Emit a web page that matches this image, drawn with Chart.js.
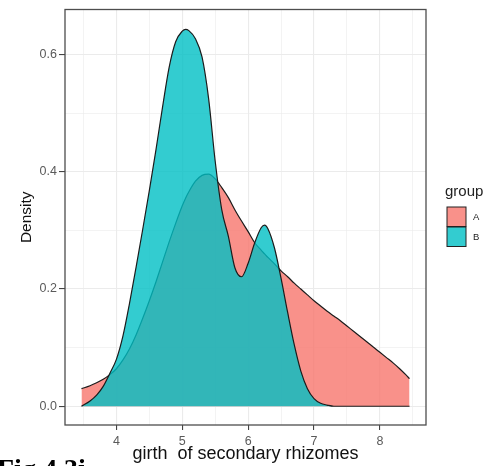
<!DOCTYPE html>
<html>
<head>
<meta charset="utf-8">
<script src="https://cdn.jsdelivr.net/npm/chart.js@4.4.1/dist/chart.umd.min.js"></script>
<style>
  html, body { margin: 0; padding: 0; background: #fff; overflow: hidden; }
  #wrap { position: relative; width: 485px; height: 466px; }
  #fig { position: absolute; left: -3px; top: 455px; font: bold 28px "Liberation Serif", serif; line-height: 28px; color: #000; white-space: nowrap; }
</style>
</head>
<body>
<div id="wrap">
  <canvas id="chart"></canvas>
  <div id="fig">Fig 4.3i</div>
</div>
<script>
// girth of secondary rhizomes (x) and density
const girth = [3.47, 3.6, 3.7, 3.8, 3.9, 4.0, 4.1, 4.2, 4.3, 4.4, 4.5, 4.6, 4.7, 4.8, 4.9,
  5.0, 5.05, 5.1, 5.2, 5.3, 5.4, 5.5, 5.6, 5.7, 5.8, 5.9, 6.0, 6.1, 6.2, 6.25, 6.3, 6.4, 6.5,
  6.6, 6.7, 6.8, 6.9, 7.0, 7.1, 7.2, 7.3, 7.4, 7.5, 7.6, 7.7, 7.8, 7.9, 8.0, 8.1, 8.2, 8.3,
  8.4, 8.45];

const densityA = [0.030, 0.035, 0.040, 0.046, 0.054, 0.064, 0.079, 0.098, 0.122, 0.150, 0.180,
  0.212, 0.246, 0.280, 0.312, 0.342, 0.355, 0.366, 0.384, 0.394, 0.396, 0.388, 0.373, 0.356,
  0.335, 0.316, 0.298, 0.279, 0.266, 0.260, 0.254, 0.243, 0.231, 0.221, 0.210, 0.200, 0.190,
  0.180, 0.171, 0.162, 0.154, 0.146, 0.137, 0.128, 0.119, 0.110, 0.101, 0.092, 0.083, 0.074,
  0.064, 0.053, 0.047];

const densityB = [0.000, 0.009, 0.019, 0.034, 0.056, 0.080, 0.120, 0.176, 0.238, 0.302, 0.368,
  0.437, 0.510, 0.578, 0.622, 0.640, 0.643, 0.641, 0.627, 0.596, 0.525, 0.418, 0.335, 0.290,
  0.236, 0.221, 0.244, 0.279, 0.305, 0.309, 0.303, 0.270, 0.218, 0.160, 0.105, 0.060, 0.030,
  0.013, 0.005, 0.002, 0.000, 0.000, 0.000, 0.000, 0.000, 0.000, 0.000, 0.000, 0.000, 0.000,
  0.000, 0.000, 0.000];

const groups = ['A', 'B'];
const xMajor = [4, 5, 6, 7, 8];
const xMinor = [3.5, 4.5, 5.5, 6.5, 7.5, 8.5];
const yMajor = [0, 0.2, 0.4, 0.6];
const yMinor = [0.1, 0.3, 0.5];

const fillA = 'rgba(248,118,109,0.8)';
const fillB = 'rgba(0,191,196,0.8)';
const gridCol = '#ebebeb';
const tickCol = '#5a5a5a';

const isIn = (list, v) => list.some(m => Math.abs(m - v) < 1e-9);
const toPts = ys => girth.map((x, i) => ({ x: x, y: ys[i] }));

// panel border like theme_bw
const framePlugin = {
  id: 'frame',
  afterDatasetsDraw(chart) {
    const { ctx, chartArea: a } = chart;
    ctx.save();
    ctx.strokeStyle = '#4d4d4d';
    ctx.lineWidth = 1.3;
    ctx.strokeRect(a.left, a.top, a.right - a.left, a.bottom - a.top);
    ctx.restore();
  }
};

// ggplot style legend on the right
const legendPlugin = {
  id: 'groupLegend',
  afterDraw(chart) {
    const ctx = chart.ctx;
    ctx.save();
    ctx.fillStyle = '#222';
    ctx.font = '15px "Liberation Sans", Arial, sans-serif';
    ctx.textBaseline = 'alphabetic';
    ctx.fillText('group', 445, 196);
    const fills = [fillA, fillB];
    groups.forEach((g, i) => {
      const y = 207 + i * 20;
      ctx.fillStyle = fills[i];
      ctx.fillRect(447, y, 19, 19.5);
      ctx.strokeStyle = '#222';
      ctx.lineWidth = 1;
      ctx.strokeRect(447, y, 19, 19.5);
      ctx.fillStyle = '#222';
      ctx.font = '9.5px "Liberation Sans", Arial, sans-serif';
      ctx.textBaseline = 'middle';
      ctx.fillText(g, 473, y + 10);
    });
    ctx.restore();
  }
};

new Chart(document.getElementById('chart'), {
  type: 'line',
  data: {
    datasets: [
      {
        label: groups[0],
        data: toPts(densityA),
        backgroundColor: fillA,
        borderColor: '#1c1c1c',
        borderWidth: 1.2,
        fill: 'origin',
        pointRadius: 0,
        cubicInterpolationMode: 'monotone',
        order: 1
      },
      {
        label: groups[1],
        data: toPts(densityB),
        backgroundColor: fillB,
        borderColor: '#1c1c1c',
        borderWidth: 1.2,
        fill: 'origin',
        pointRadius: 0,
        cubicInterpolationMode: 'monotone',
        order: 0
      }
    ]
  },
  options: {
    responsive: true,
    maintainAspectRatio: false,
    animation: false,
    layout: { padding: { top: 7, right: 59, left: 0, bottom: 0 } },
    plugins: {
      legend: { display: false },
      tooltip: { enabled: false }
    },
    scales: {
      x: {
        type: 'linear',
        min: 3.22,
        max: 8.70,
        afterBuildTicks: axis => {
          axis.ticks = xMajor.concat(xMinor).sort((a, b) => a - b).map(v => ({ value: v }));
        },
        afterFit: s => { s.height = 41; },
        ticks: {
          autoSkip: false,
          maxRotation: 0,
          padding: 4,
          color: tickCol,
          font: { family: '"Liberation Sans", Arial, sans-serif', size: 12.5 },
          callback: v => isIn(xMajor, v) ? String(v) : ''
        },
        grid: {
          color: gridCol,
          lineWidth: c => isIn(xMajor, c.tick.value) ? 1.1 : 0.6,
          tickLength: 5,
          tickColor: c => isIn(xMajor, c.tick.value) ? '#444' : 'rgba(0,0,0,0)'
        },
        border: { display: false },
        title: {
          display: true,
          text: 'girth  of secondary rhizomes',
          color: '#111',
          font: { family: '"Liberation Sans", Arial, sans-serif', size: 18 },
          padding: { top: 0, bottom: 1 }
        }
      },
      y: {
        type: 'linear',
        min: -0.032,
        max: 0.677,
        afterBuildTicks: axis => {
          axis.ticks = yMajor.concat(yMinor).sort((a, b) => a - b).map(v => ({ value: v }));
        },
        afterFit: s => { s.width = 65; },
        ticks: {
          autoSkip: false,
          padding: 2,
          color: tickCol,
          font: { family: '"Liberation Sans", Arial, sans-serif', size: 12.5 },
          callback: v => isIn(yMajor, v) ? v.toFixed(1) : ''
        },
        grid: {
          color: gridCol,
          lineWidth: c => isIn(yMajor, c.tick.value) ? 1.1 : 0.6,
          tickLength: 6,
          tickColor: c => isIn(yMajor, c.tick.value) ? '#444' : 'rgba(0,0,0,0)'
        },
        border: { display: false },
        title: {
          display: true,
          text: 'Density',
          color: '#111',
          font: { family: '"Liberation Sans", Arial, sans-serif', size: 15.5 },
          padding: { top: 17, bottom: 0 }
        }
      }
    }
  },
  plugins: [framePlugin, legendPlugin]
});
</script>
</body>
</html>
